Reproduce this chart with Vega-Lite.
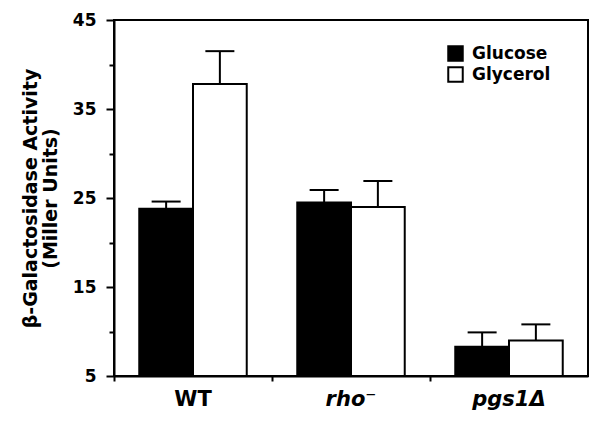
{
  "$schema": "https://vega.github.io/schema/vega-lite/v6.json",
  "width": 474,
  "height": 356,
  "autosize": {"type": "none"},
  "padding": {"left": 114, "top": 20, "right": 12, "bottom": 46},
  "background": "white",
  "config": {
    "font": "DejaVu Sans",
    "view": {"stroke": "black", "strokeWidth": 2},
    "axis": {"domainColor": "black", "domainWidth": 2, "tickColor": "black", "tickWidth": 2, "labelColor": "black", "titleColor": "black", "grid": false}
  },
  "data": {
    "values": [
      {"strain": "WT", "source": "Glucose", "mean": 23.8, "upper": 24.6},
      {"strain": "WT", "source": "Glycerol", "mean": 37.8, "upper": 41.5},
      {"strain": "rho⁻", "source": "Glucose", "mean": 24.5, "upper": 25.9},
      {"strain": "rho⁻", "source": "Glycerol", "mean": 24.0, "upper": 26.9},
      {"strain": "pgs1Δ", "source": "Glucose", "mean": 8.3, "upper": 9.9},
      {"strain": "pgs1Δ", "source": "Glycerol", "mean": 9.0, "upper": 10.8}
    ]
  },
  "encoding": {
    "x": {
      "field": "strain", "type": "nominal", "sort": ["WT", "rho⁻", "pgs1Δ"],
      "scale": {"paddingInner": 0, "paddingOuter": 0},
      "axis": {
        "title": null, "labelAngle": 0, "bandPosition": 0,
        "tickSize": 5, "labelPadding": 7,
        "labelFontSize": 21, "labelFontWeight": "bold",
        "labelFontStyle": {"condition": {"test": "datum.value == 'WT'", "value": "normal"}, "value": "italic"}
      }
    },
    "xOffset": {
      "field": "source", "type": "nominal", "sort": ["Glucose", "Glycerol"],
      "scale": {"paddingInner": 0, "paddingOuter": 0.47}
    }
  },
  "layer": [
    {
      "mark": {"type": "bar", "stroke": "black", "strokeWidth": 2},
      "encoding": {
        "y": {
          "field": "mean", "type": "quantitative",
          "scale": {"domain": [5, 45], "zero": false, "nice": false},
          "axis": {
            "values": [5, 10, 15, 20, 25, 30, 35, 40, 45],
            "labelExpr": "datum.value % 10 == 5 ? datum.label : ''",
            "tickSize": {"condition": {"test": "datum.value % 10 == 5", "value": 8}, "value": 5},
            "labelPadding": 10,
            "labelFontSize": 17, "labelFontWeight": "bold",
            "title": ["β-Galactosidase Activity", "(Miller Units)"],
            "titleFontSize": 19, "titleFontWeight": "bold", "titleLineHeight": 20,
            "titlePadding": 12
          }
        },
        "y2": {"datum": 5},
        "fill": {
          "field": "source", "type": "nominal", "sort": ["Glucose", "Glycerol"],
          "scale": {"domain": ["Glucose", "Glycerol"], "range": ["black", "white"]},
          "legend": {
            "title": null, "orient": "none", "legendX": 333, "legendY": 25,
            "symbolType": "square", "symbolSize": 210, "symbolStrokeColor": "black", "symbolStrokeWidth": 2,
            "labelFontSize": 17, "labelFontWeight": "bold", "labelColor": "black", "rowPadding": -2, "labelOffset": 8
          }
        }
      }
    },
    {
      "mark": {"type": "rule", "color": "black", "strokeWidth": 2},
      "encoding": {
        "y": {"field": "mean", "type": "quantitative"},
        "y2": {"field": "upper"}
      }
    },
    {
      "mark": {"type": "tick", "color": "black", "thickness": 2, "size": 29, "opacity": 1, "orient": "horizontal"},
      "encoding": {
        "y": {"field": "upper", "type": "quantitative"}
      }
    }
  ]
}
